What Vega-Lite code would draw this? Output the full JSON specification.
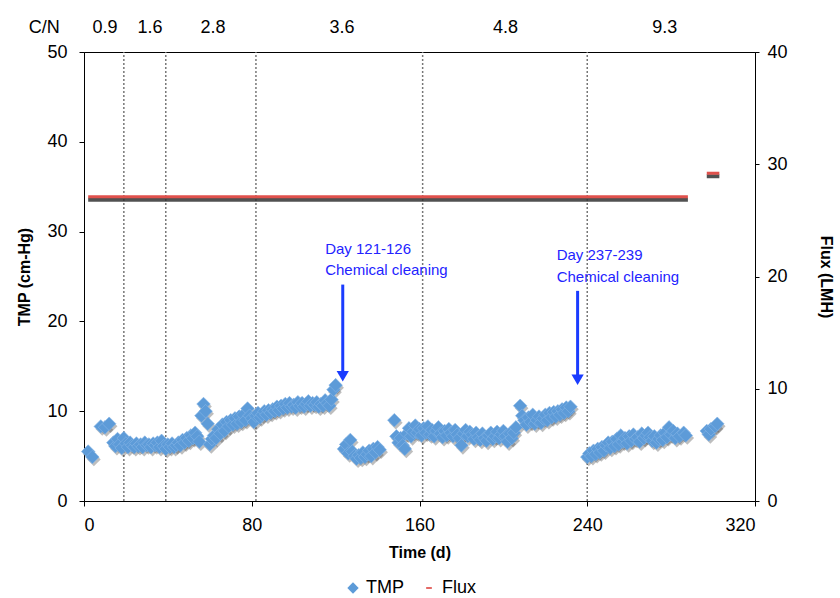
{
  "$schema": "https://vega.github.io/schema/vega-lite/v6.json",
  "width": 671,
  "height": 449,
  "autosize": {"type": "none"},
  "padding": {"left": 84, "top": 52, "right": 85, "bottom": 97},
  "background": "white",
  "config": {
    "view": {"stroke": "#000", "strokeWidth": 1},
    "font": "Liberation Sans",
    "axis": {"grid": false, "domainColor": "#000", "tickColor": "#000", "labelColor": "#000", "titleColor": "#000", "labelFontSize": 18, "titleFontSize": 16, "titleFontWeight": "bold", "tickSize": 5, "labelFont": "Liberation Sans Narrow, Liberation Sans, Arial", "titleFont": "Liberation Sans"}
  },
  "datasets": {
    "tmp": [
      {"d":2,"y":5.5},{"d":4,"y":4.9},{"d":8,"y":8.3},{"d":10,"y":8.2},{"d":12,"y":8.6},
      {"d":14,"y":6.5},{"d":15,"y":6.1},{"d":16,"y":6.9},{"d":17,"y":6.3},{"d":18,"y":5.9},{"d":19,"y":7.0},{"d":20,"y":6.4},{"d":21,"y":6.0},{"d":22,"y":6.5},{"d":23,"y":6.2},{"d":24,"y":6.0},{"d":25,"y":6.4},{"d":26,"y":6.1},{"d":27,"y":6.3},{"d":28,"y":6.0},{"d":29,"y":6.5},{"d":30,"y":6.2},{"d":31,"y":6.3},{"d":32,"y":6.0},{"d":33,"y":6.4},{"d":34,"y":6.2},{"d":35,"y":6.5},{"d":36,"y":6.0},{"d":37,"y":6.7},{"d":38,"y":6.1},{"d":39,"y":5.8},{"d":40,"y":6.3},{"d":41,"y":6.0},{"d":42,"y":6.4},{"d":43,"y":6.0},{"d":44,"y":6.2},{"d":45,"y":6.5},{"d":46,"y":6.2},{"d":47,"y":6.8},{"d":48,"y":6.5},{"d":49,"y":7.0},{"d":50,"y":6.7},{"d":51,"y":7.3},{"d":52,"y":7.0},{"d":53,"y":7.6},{"d":54,"y":7.2},{"d":55,"y":6.6},{"d":56,"y":9.5},{"d":57,"y":10.8},{"d":58,"y":10.0},{"d":59,"y":8.6},{"d":60,"y":6.3},{"d":61,"y":6.9},{"d":62,"y":7.3},{"d":63,"y":7.0},{"d":64,"y":8.0},{"d":65,"y":7.5},{"d":66,"y":8.5},{"d":67,"y":7.8},{"d":68,"y":8.8},{"d":69,"y":8.3},{"d":70,"y":9.0},{"d":71,"y":8.5},{"d":72,"y":9.2},{"d":73,"y":8.6},{"d":74,"y":9.4},{"d":75,"y":8.8},{"d":76,"y":9.6},{"d":77,"y":9.0},{"d":78,"y":10.3},{"d":79,"y":9.5},{"d":80,"y":9.2},{"d":81,"y":8.8},{"d":82,"y":9.5},{"d":83,"y":9.8},{"d":84,"y":9.3},{"d":85,"y":9.6},{"d":86,"y":10.0},{"d":87,"y":9.6},{"d":88,"y":10.1},{"d":89,"y":9.8},{"d":90,"y":10.2},{"d":91,"y":10.0},{"d":92,"y":10.5},{"d":93,"y":10.1},{"d":94,"y":10.6},{"d":95,"y":10.3},{"d":96,"y":10.8},{"d":97,"y":10.4},{"d":98,"y":10.9},{"d":99,"y":10.5},{"d":100,"y":10.7},{"d":101,"y":10.4},{"d":102,"y":11.0},{"d":103,"y":10.6},{"d":104,"y":10.9},{"d":105,"y":10.5},{"d":106,"y":10.8},{"d":107,"y":11.1},{"d":108,"y":10.6},{"d":109,"y":10.9},{"d":110,"y":10.7},{"d":111,"y":11.0},{"d":112,"y":10.5},{"d":113,"y":10.8},{"d":114,"y":10.6},{"d":115,"y":11.2},{"d":116,"y":10.9},{"d":117,"y":10.6},{"d":118,"y":11.3},{"d":119,"y":12.4},{"d":120,"y":12.9},
      {"d":124,"y":5.8},{"d":125,"y":6.3},{"d":126,"y":5.3},{"d":127,"y":6.8},{"d":128,"y":5.5},{"d":129,"y":5.0},{"d":130,"y":4.7},{"d":131,"y":5.1},{"d":132,"y":4.8},{"d":133,"y":5.4},{"d":134,"y":4.9},{"d":135,"y":5.2},{"d":136,"y":5.6},{"d":137,"y":5.0},{"d":138,"y":5.8},{"d":139,"y":5.4},{"d":140,"y":6.0},{"d":141,"y":5.7},
      {"d":148,"y":9.0},{"d":149,"y":7.2},{"d":150,"y":6.5},{"d":151,"y":7.0},{"d":152,"y":6.2},{"d":153,"y":5.8},{"d":154,"y":7.5},{"d":155,"y":8.1},{"d":156,"y":7.2},{"d":157,"y":7.7},{"d":158,"y":8.4},{"d":159,"y":7.6},{"d":160,"y":8.0},{"d":161,"y":7.3},{"d":162,"y":8.1},{"d":163,"y":7.6},{"d":164,"y":8.3},{"d":165,"y":7.4},{"d":166,"y":7.9},{"d":167,"y":7.2},{"d":168,"y":7.8},{"d":169,"y":8.2},{"d":170,"y":7.5},{"d":171,"y":7.1},{"d":172,"y":7.8},{"d":173,"y":7.3},{"d":174,"y":8.0},{"d":175,"y":7.6},{"d":176,"y":7.2},{"d":177,"y":7.9},{"d":178,"y":7.4},{"d":179,"y":7.0},{"d":180,"y":6.2},{"d":181,"y":7.5},{"d":182,"y":7.9},{"d":183,"y":7.2},{"d":184,"y":7.7},{"d":185,"y":7.4},{"d":186,"y":6.9},{"d":187,"y":7.6},{"d":188,"y":7.1},{"d":189,"y":6.8},{"d":190,"y":7.5},{"d":191,"y":7.0},{"d":192,"y":6.7},{"d":193,"y":7.3},{"d":194,"y":7.6},{"d":195,"y":6.9},{"d":196,"y":7.2},{"d":197,"y":7.7},{"d":198,"y":7.0},{"d":199,"y":7.4},{"d":200,"y":7.8},{"d":201,"y":7.2},{"d":202,"y":6.6},{"d":203,"y":7.5},{"d":204,"y":7.0},{"d":205,"y":7.6},{"d":206,"y":8.2},
      {"d":208,"y":10.6},{"d":209,"y":9.5},{"d":210,"y":9.0},{"d":211,"y":8.5},{"d":212,"y":9.3},{"d":213,"y":8.8},{"d":214,"y":9.6},{"d":215,"y":8.6},{"d":216,"y":9.0},{"d":217,"y":9.4},{"d":218,"y":8.7},{"d":219,"y":9.2},{"d":220,"y":9.6},{"d":221,"y":9.0},{"d":222,"y":9.8},{"d":223,"y":9.3},{"d":224,"y":9.9},{"d":225,"y":9.4},{"d":226,"y":10.0},{"d":227,"y":9.6},{"d":228,"y":10.2},{"d":229,"y":9.8},{"d":230,"y":10.4},{"d":231,"y":10.0},{"d":232,"y":10.5},
      {"d":240,"y":4.9},{"d":241,"y":5.3},{"d":242,"y":5.0},{"d":243,"y":5.6},{"d":244,"y":5.2},{"d":245,"y":5.8},{"d":246,"y":5.4},{"d":247,"y":6.0},{"d":248,"y":5.6},{"d":249,"y":6.2},{"d":250,"y":6.5},{"d":251,"y":5.9},{"d":252,"y":6.6},{"d":253,"y":6.1},{"d":254,"y":6.9},{"d":255,"y":6.3},{"d":256,"y":7.3},{"d":257,"y":6.6},{"d":258,"y":7.0},{"d":259,"y":6.4},{"d":260,"y":7.2},{"d":261,"y":6.7},{"d":262,"y":7.4},{"d":263,"y":6.9},{"d":264,"y":7.1},{"d":265,"y":6.6},{"d":266,"y":7.5},{"d":267,"y":7.0},{"d":268,"y":7.3},{"d":269,"y":7.6},{"d":270,"y":7.1},{"d":271,"y":6.7},{"d":272,"y":7.2},{"d":273,"y":6.5},{"d":274,"y":6.9},{"d":275,"y":7.3},{"d":276,"y":6.8},{"d":277,"y":7.6},{"d":278,"y":7.1},{"d":279,"y":8.2},{"d":280,"y":7.4},{"d":281,"y":7.8},{"d":282,"y":7.0},{"d":283,"y":7.5},{"d":284,"y":7.2},{"d":286,"y":7.6},{"d":287,"y":7.3},
      {"d":297,"y":7.8},{"d":298,"y":7.4},{"d":299,"y":8.0},{"d":301,"y":8.3},{"d":302,"y":8.6}
    ],
    "flux": [
      {"d":2,"f":27.1,"seg":"a"},{"d":288,"f":27.1,"seg":"a"},
      {"d":297,"f":29.2,"seg":"b"},{"d":303,"f":29.2,"seg":"b"}
    ],
    "vlines": [{"d":19,"y":0,"y2":50},{"d":39,"y":0,"y2":50},{"d":82,"y":0,"y2":50},{"d":161.5,"y":0,"y2":50},{"d":240,"y":0,"y2":50}],
    "cn": [
      {"d":-19,"y":52.7,"t":"C/N"},{"d":10,"y":52.7,"t":"0.9"},{"d":31.5,"y":52.7,"t":"1.6"},{"d":61.5,"y":52.7,"t":"2.8"},{"d":123,"y":52.7,"t":"3.6"},{"d":201,"y":52.7,"t":"4.8"},{"d":277,"y":52.7,"t":"9.3"}
    ],
    "notes": [
      {"d":115,"y":28.06,"t":"Day 121-126"},{"d":115,"y":25.72,"t":"Chemical cleaning"},
      {"d":225.4,"y":27.34,"t":"Day 237-239"},{"d":225.4,"y":25.0,"t":"Chemical cleaning"}
    ],
    "arrows": [
      {"d":123.4,"y":24.1,"y2":14.3},
      {"d":235.4,"y":23.4,"y2":13.9}
    ],
    "tips": [
      {"d":123.4,"y":13.9},
      {"d":235.4,"y":13.5}
    ]
  },
  "layer": [
    {
      "encoding": {
        "x": {"field": "d", "type": "quantitative", "title": "Time (d)", "scale": {"domain": [0, 320], "nice": false}, "axis": {"values": [0, 80, 160, 240, 320], "labelPadding": 10, "titlePadding": 10}},
        "y": {"field": "y", "type": "quantitative", "title": "TMP (cm-Hg)", "scale": {"domain": [0, 50], "nice": false}, "axis": {"values": [0, 10, 20, 30, 40, 50], "labelPadding": 12, "titlePadding": 14}}
      },
      "layer": [
        {
          "data": {"name": "vlines"},
          "mark": {"type": "rule", "color": "#777", "strokeWidth": 1.5, "strokeDash": [2, 2]},
          "encoding": {"y2": {"field": "y2"}}
        },
        {
          "data": {"name": "tmp"},
          "mark": {"type": "point", "shape": "diamond", "filled": true, "size": 185, "color": "#444", "opacity": 0.35, "xOffset": 1.5, "yOffset": 2.5},
          "encoding": {}
        },
        {
          "data": {"name": "tmp"},
          "transform": [{"calculate": "'TMP'", "as": "series"}],
          "mark": {"type": "point", "filled": true, "size": 185, "opacity": 1, "stroke": "#86b6e6", "strokeWidth": 0.6},
          "encoding": {
            "color": {"field": "series", "type": "nominal", "scale": {"domain": ["TMP", "Flux"], "range": ["#5d9bd8", "#e0514c"]}, "legend": {"orient": "none", "legendX": 260, "legendY": 527, "direction": "horizontal", "title": null, "labelFontSize": 18, "labelFont": "Liberation Sans Narrow, Liberation Sans, Arial", "symbolSize": 130, "columnPadding": 16, "labelOffset": 4, "symbolStrokeWidth": 0}},
            "shape": {"field": "series", "type": "nominal", "scale": {"domain": ["TMP", "Flux"], "range": ["diamond", "M-0.5,-0.15L0.5,-0.15L0.5,0.15L-0.5,0.15Z"]}, "legend": null}
          }
        },
        {
          "data": {"name": "arrows"},
          "mark": {"type": "rule", "color": "#1a3cff", "strokeWidth": 3},
          "encoding": {"y2": {"field": "y2"}}
        },
        {
          "data": {"name": "tips"},
          "mark": {"type": "point", "shape": "triangle-down", "filled": true, "size": 150, "color": "#1a3cff", "opacity": 1},
          "encoding": {}
        },
        {
          "data": {"name": "notes"},
          "mark": {"type": "text", "align": "left", "baseline": "middle", "fontSize": 15, "color": "#2323ff", "font": "Liberation Sans"},
          "encoding": {"text": {"field": "t"}}
        },
        {
          "data": {"name": "cn"},
          "mark": {"type": "text", "align": "center", "baseline": "middle", "fontSize": 18, "color": "#000", "font": "Liberation Sans Narrow, Liberation Sans, Arial"},
          "encoding": {"text": {"field": "t"}}
        }
      ]
    },
    {
      "data": {"name": "flux"},
      "encoding": {
        "x": {"field": "d", "type": "quantitative", "title": "Time (d)", "scale": {"domain": [0, 320], "nice": false}},
        "y": {"field": "f", "type": "quantitative", "title": "Flux (LMH)", "scale": {"domain": [0, 40], "nice": false}, "axis": {"orient": "right", "values": [0, 10, 20, 30, 40], "tickSize": 4, "labelPadding": 8, "titlePadding": 30}},
        "detail": {"field": "seg"}
      },
      "layer": [
        {
          "mark": {"type": "line", "color": "#333", "strokeWidth": 4, "opacity": 0.85, "yOffset": 3},
          "encoding": {}
        },
        {
          "mark": {"type": "line", "color": "#e0514c", "strokeWidth": 3},
          "encoding": {}
        }
      ]
    }
  ],
  "resolve": {"scale": {"y": "independent"}}
}
